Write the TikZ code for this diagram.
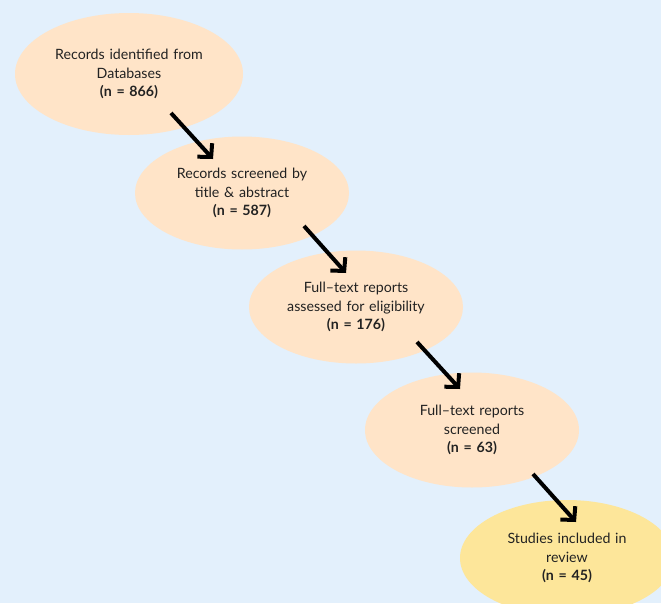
\documentclass[tikz,border=0pt]{standalone}
\usepackage{fontspec}
\setmainfont{Lato}
\usetikzlibrary{shapes.geometric,arrows.meta}
\definecolor{bg}{HTML}{E3F0FC}
\definecolor{peach}{HTML}{FFE4C8}
\definecolor{gold}{HTML}{FDE69A}
\definecolor{ink}{HTML}{222222}
\begin{document}
\begin{tikzpicture}[x=1pt,y=-1pt,
  stage/.style={ellipse, fill=peach, inner ysep=0pt, inner xsep=-15pt, minimum width=214pt, minimum height=113pt,
    text width=170pt, align=center, font=\fontsize{14.2}{18.5}\selectfont, text=ink},
  flow/.style={line width=4pt, -{Straight Barb[length=9.5pt,width=20pt]}}]
\fill[bg] (0,0) rectangle (661,603);
\useasboundingbox (0,0) rectangle (661,603);
\begin{scope}
\clip (0,0) rectangle (661,603);
\node[stage, minimum width=228pt, minimum height=122pt] (e1) at (129,74)
  {Records identified from\\ Databases\\ \textbf{(n = 866)}};
\node[stage] (e2) at (242,193)
  {Records screened by\\ title \& abstract\\ \textbf{(n = 587)}};
\node[stage] (e3) at (356,307)
  {Full–text reports\\ assessed for eligibility\\ \textbf{(n = 176)}};
\node[stage, minimum height=115pt] (e4) at (472,430)
  {Full–text reports\\ screened\\ \textbf{(n = 63)}};
\node[stage, fill=gold, minimum height=116pt] (e5) at (567,558)
  {Studies included in\\ review\\ \textbf{(n = 45)}};
\coordinate (a1s) at (171,113); \coordinate (a1e) at (213,159);
\coordinate (a2s) at (304,226); \coordinate (a2e) at (346,273);
\coordinate (a3s) at (417,342); \coordinate (a3e) at (460,389);
\coordinate (a4s) at (533,474); \coordinate (a4e) at (576,522);
\draw[flow] (a1s) -- (a1e);
\draw[flow] (a2s) -- (a2e);
\draw[flow] (a3s) -- (a3e);
\draw[flow] (a4s) -- (a4e);
\end{scope}
\end{tikzpicture}
\end{document}
